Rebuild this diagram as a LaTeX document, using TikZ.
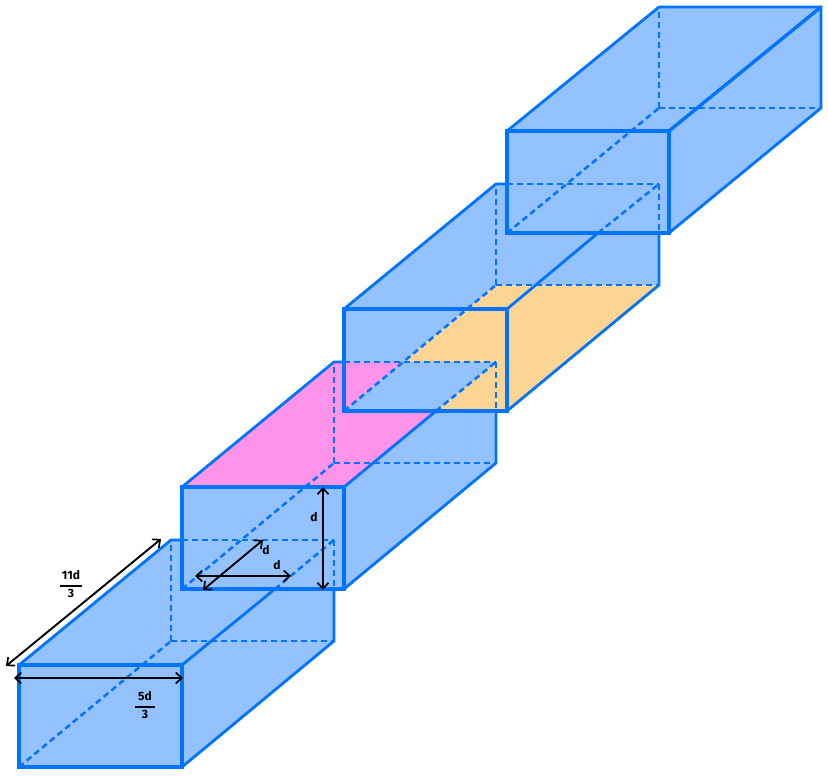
\documentclass[tikz,border=0pt]{standalone}
\usepackage{fontspec}
\setmainfont{Fira Sans}[BoldFont={Fira Sans Bold}]
\usetikzlibrary{arrows.meta}
\definecolor{boxfill}{HTML}{94C1FF}
\definecolor{boxline}{HTML}{0073FF}
\definecolor{pinkface}{HTML}{FF94EA}
\definecolor{orangeface}{HTML}{FCD494}
\tikzset{
  x=1pt,y=-1pt,
  body/.style={fill=boxfill,draw=none},
  front/.style={draw=boxline,line width=3.4pt,line join=miter},
  edge/.style={draw=boxline,line width=2.8pt,line cap=round},
  hidden/.style={draw=boxline,line width=2.5pt,dash pattern=on 6pt off 4pt},
  dim/.style={draw=black,line width=1.9pt,{Straight Barb[length=6pt,width=11pt,line width=1.7pt]}-{Straight Barb[length=6pt,width=11pt,line width=1.7pt]}},
  lab/.style={inner sep=0pt,font=\bfseries\fontsize{12}{12}\selectfont,text=black,align=center}
}
\newcommand{\fracrule}[1]{\rule[1.5pt]{#1}{1.5pt}}
\begin{document}
\begin{tikzpicture}
\useasboundingbox (0,0) rectangle (828,776);
% box 1
\coordinate (a1) at (19,767); \coordinate (b1) at (182,767); \coordinate (c1) at (182,665); \coordinate (d1) at (19,665);
\coordinate (e1) at (171,641); \coordinate (f1) at (334,641); \coordinate (g1) at (334,540); \coordinate (h1) at (171,540);
\coordinate (p1) at (275,589); \coordinate (q1) at (334,589); \coordinate (r1) at (182,540);
% box 2
\coordinate (a2) at (182,589); \coordinate (b2) at (344,589); \coordinate (c2) at (344,487); \coordinate (d2) at (182,487);
\coordinate (e2) at (334,463); \coordinate (f2) at (496,463); \coordinate (g2) at (496,362); \coordinate (h2) at (334,362);
\coordinate (p2) at (436,411); \coordinate (q2) at (496,411); \coordinate (r2) at (344,362);
% box 3
\coordinate (a3) at (344,411); \coordinate (b3) at (507,411); \coordinate (c3) at (507,309); \coordinate (d3) at (344,309);
\coordinate (e3) at (496,285); \coordinate (f3) at (659,285); \coordinate (g3) at (659,184); \coordinate (h3) at (496,184);
\coordinate (p3) at (598,233); \coordinate (q3) at (659,233); \coordinate (r3) at (507,184);
\coordinate (m3) at (403,362);
% box 4
\coordinate (a4) at (507,233); \coordinate (b4) at (669,233); \coordinate (c4) at (669,131); \coordinate (d4) at (507,131);
\coordinate (e4) at (659,108); \coordinate (f4) at (821,108); \coordinate (g4) at (821,7); \coordinate (h4) at (659,7);
% solid bodies
\foreach \i in {1,2,3,4}{
  \fill[body] (a\i) -- (b\i) -- (f\i) -- (g\i) -- (h\i) -- (d\i) -- cycle;
}
% coloured faces
\fill[pinkface] (d2) -- (c2) -- (g2) -- (h2) -- cycle;
\fill[orangeface] (a3) -- (b3) -- (f3) -- (e3) -- cycle;
\fill[boxfill] (a3) -- (p2) -- (g2) -- (m3) -- cycle;
% hidden edges
\foreach \i in {1,2,3,4}{
  \draw[hidden] (a\i) -- (e\i);
  \draw[hidden] (e\i) -- (f\i);
  \draw[hidden] (e\i) -- (h\i);
}
\foreach \i in {1,2,3}{
  \draw[hidden] (p\i) -- (g\i);
  \draw[hidden] (r\i) -- (g\i);
  \draw[hidden] (g\i) -- (q\i);
}
% visible edges
\foreach \i in {1,2,3}{
  \draw[edge] (d\i) -- (h\i) -- (r\i);
  \draw[edge] (c\i) -- (p\i);
  \draw[edge] (q\i) -- (f\i) -- (b\i);
}
\draw[edge] (d4) -- (h4) -- (g4) -- (f4) -- (b4);
\draw[edge,line width=3.4pt] (c4) -- (g4);
\foreach \i in {1,2,3,4}{
  \draw[front] (a\i) rectangle (c\i);
}
% dimensions
\coordinate (la) at (6,666); \coordinate (lb) at (161,539);
\coordinate (wa) at (14,678); \coordinate (wb) at (183,678);
\coordinate (ha) at (323,487); \coordinate (hb) at (323,590);
\coordinate (da) at (203,590); \coordinate (db) at (263,540);
\coordinate (ea) at (195,576); \coordinate (eb) at (291,576);
\draw[dim] (la) -- (lb);
\draw[dim] (wa) -- (wb);
\draw[dim,line width=2.4pt] (ha) -- (hb);
\draw[dim] (da) -- (db);
\draw[dim] (ea) -- (eb);
\node[lab] (l11) at (71,584) {11d\\[-3pt]\fracrule{22pt}\\[-3pt]3};
\node[lab] (l5) at (145,705) {5d\\[-3pt]\fracrule{20pt}\\[-3pt]3};
\node[lab] (ld1) at (314,517) {d};
\node[lab] (ld2) at (266,550) {d};
\node[lab] (ld3) at (277,565) {d};
\end{tikzpicture}
\end{document}
